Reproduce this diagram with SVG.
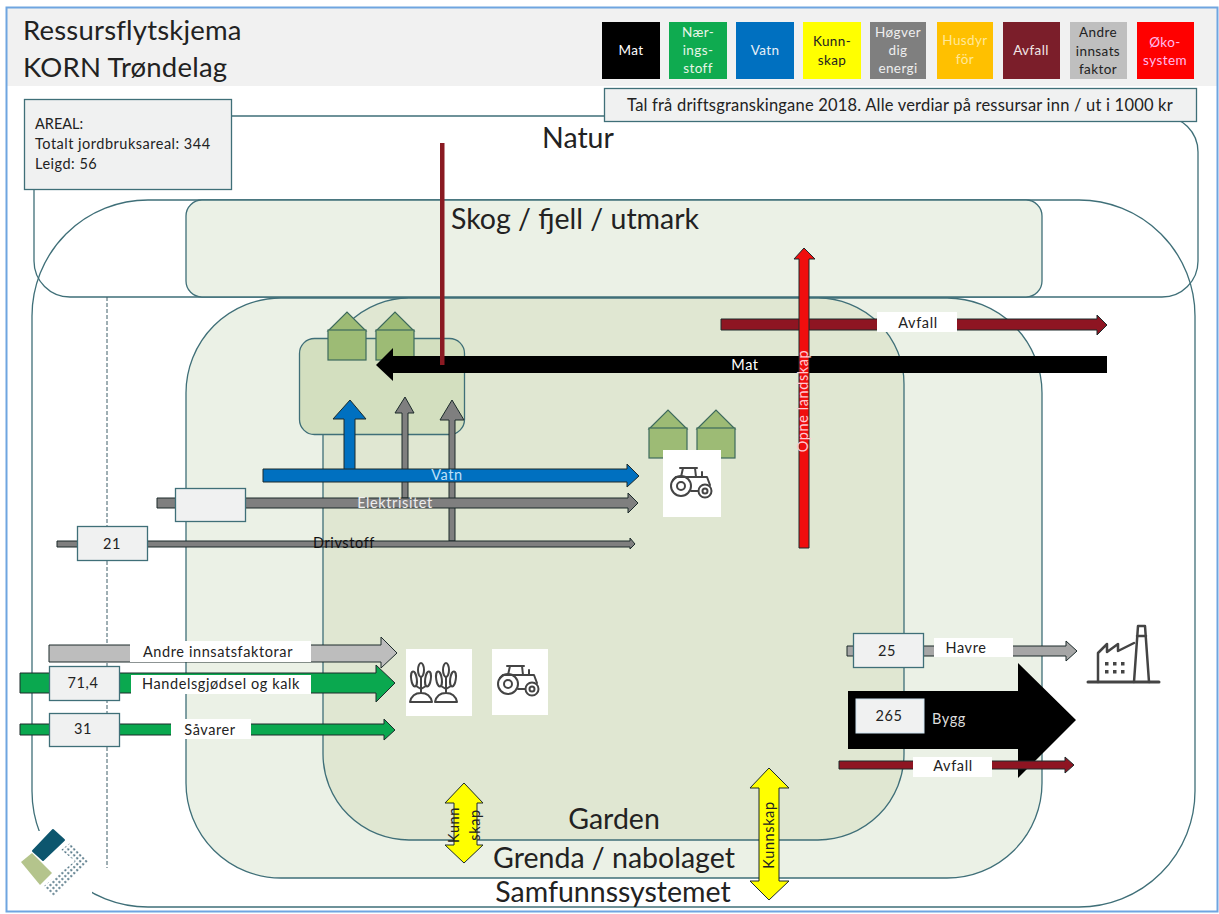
<svg xmlns="http://www.w3.org/2000/svg" width="1219" height="914" viewBox="0 0 1219 914">
<style>
text{font-family:"Lato","Open Sans","Liberation Sans",sans-serif;fill:#222}
.zone{stroke:#3f6f78;stroke-width:1.3}
.big{font-size:28.500px;text-anchor:middle}
.lg{font-size:13.500px;text-anchor:middle;letter-spacing:.4px}
.lb{font-size:14.500px;text-anchor:middle;letter-spacing:.6px}
.box{fill:#f0f1f1;stroke:#3f6f78;stroke-width:1.3}
.ar{stroke:#1c2b2b;stroke-width:1}
.wh{fill:#fff}
.ic{fill:none;stroke:#444;stroke-width:2;stroke-linejoin:round;stroke-linecap:round}
.house polygon,.house rect{fill:#9dbb75;stroke:#3d6a5c;stroke-width:1.2}
</style>
<defs>
<pattern id="dots" width="4.200" height="4.200" patternUnits="userSpaceOnUse" patternTransform="rotate(45)"><circle cx="2.100" cy="2.100" r="1.100" fill="#4b6f80"/></pattern>
<g id="house2">
<g class="house"><polygon points="0,19 19,0 38,19"/><rect x="0" y="18" width="38" height="30"/><polygon points="48,19 67,0 86,19"/><rect x="48" y="18" width="38" height="30"/></g>
</g>
<g id="tractor" class="ic">
<circle cx="0" cy="0" r="10"/><circle cx="0" cy="0" r="4"/><circle cx="24" cy="5" r="6.500"/><circle cx="24" cy="5" r="2.500"/>
<path d="M-8,-6L-5,-9H26L29,-1M10,5H17M-1,-18H16M2,-18L0,-9M14,-18L15,-9M21,-14V-9"/>
</g>
<g id="plant" class="ic">
<ellipse cx="0" cy="-32" rx="3" ry="7"/><path d="M0,-25V-9M-11,0H11Q9,-9 0,-9Q-9,-9 -11,0ZM0,-13L-5,-16M0,-13L5,-16"/>
<ellipse cx="-7" cy="-23" rx="2.800" ry="7.500" transform="rotate(-8 -7 -23)"/><ellipse cx="7" cy="-23" rx="2.800" ry="7.500" transform="rotate(8 7 -23)"/>
</g>
</defs>
<rect width="1219" height="914" fill="#fff"/>
<rect x="7" y="8" width="1210" height="78" fill="#f1f1f1"/>
<rect x="6.500" y="7.500" width="1211" height="904" fill="none" stroke="#6fa5e0" stroke-width="2"/>

<g id="zones">
<rect id="natur" class="zone" x="34" y="116" width="1164" height="181" rx="36" fill="none"/>
<rect id="samfunn" class="zone" x="32" y="200" width="1163" height="707" rx="116" fill="none"/>
<line x1="107" y1="297" x2="107" y2="868" stroke="#3f5f68" stroke-width="1" stroke-dasharray="4 2"/>
<rect id="skog" class="zone" x="186" y="200" width="856" height="97" rx="16" fill="#ebf1e6"/>
<rect id="grenda" class="zone" x="186" y="298" width="856" height="580" rx="95" fill="#ebf1e6"/>
<rect id="garden" class="zone" x="323" y="298" width="581" height="542" rx="86" fill="#e0e7d2"/>
</g>

<g id="header">
<text x="23" y="40" font-size="27.500" letter-spacing=".2">Ressursflytskjema</text>
<text x="23" y="77" font-size="27.500" letter-spacing=".2">KORN Trøndelag</text>
</g>

<g id="legend">
<g id="lg-mat"><rect x="602" y="22" width="58" height="57" fill="#000"/><text class="lg" x="631" y="55" style="fill:#fff">Mat</text></g>
<g id="lg-naering"><rect x="669" y="22" width="58" height="57" fill="#0fab50"/><text class="lg" x="698" y="37" style="fill:#e8f5e8">Nær-</text><text class="lg" x="698" y="55" style="fill:#e8f5e8">ings-</text><text class="lg" x="698" y="73" style="fill:#e8f5e8">stoff</text></g>
<g id="lg-vatn"><rect x="736" y="22" width="58" height="57" fill="#0070c0"/><text class="lg" x="765" y="55" style="fill:#e8f0f8">Vatn</text></g>
<g id="lg-kunn"><rect x="803" y="22" width="58" height="57" fill="#ffff00"/><text class="lg" x="832" y="46">Kunn-</text><text class="lg" x="832" y="65">skap</text></g>
<g id="lg-energi"><rect x="870" y="22" width="56" height="57" fill="#7f7f7f"/><text class="lg" x="898" y="37" style="fill:#eee">Høgver</text><text class="lg" x="898" y="55" style="fill:#eee">dig</text><text class="lg" x="898" y="73" style="fill:#eee">energi</text></g>
<g id="lg-for"><rect x="937" y="22" width="56" height="57" fill="#ffc000"/><text class="lg" x="965" y="45" style="fill:#ffe89a">Husdyr</text><text class="lg" x="965" y="64" style="fill:#ffe89a">för</text></g>
<g id="lg-avfall"><rect x="1003" y="22" width="57" height="57" fill="#7b1e2a"/><text class="lg" x="1031" y="55" style="fill:#f2e6e6">Avfall</text></g>
<g id="lg-andre"><rect x="1070" y="22" width="57" height="57" fill="#bfbfbf"/><text class="lg" x="1098" y="37">Andre</text><text class="lg" x="1098" y="56">innsats</text><text class="lg" x="1098" y="74">faktor</text></g>
<g id="lg-oko"><rect x="1137" y="22" width="57" height="57" fill="#f00"/><text class="lg" x="1165" y="47" style="fill:#fbe">Øko-</text><text class="lg" x="1165" y="65" style="fill:#fbe">system</text></g>
</g>

<g id="info">
<rect class="box" x="604.500" y="88.500" width="592" height="33"/>
<text x="900" y="111" font-size="16.500" text-anchor="middle" letter-spacing=".2">Tal frå driftsgranskingane 2018. Alle verdiar på ressursar inn / ut i 1000  kr</text>
</g>
<g id="areal">
<rect class="box" x="24.500" y="99.500" width="207" height="90"/>
<text x="35" y="129" font-size="14.500">AREAL:</text>
<text x="35" y="149" font-size="14.500" letter-spacing=".5">Totalt jordbruksareal: 344</text>
<text x="35" y="169" font-size="14.500" letter-spacing=".5">Leigd: 56</text>
</g>

<g id="zone-labels">
<text class="big" x="578" y="148">Natur</text>
<text class="big" x="575" y="229">Skog / fjell / utmark</text>
<text class="big" x="614" y="829">Garden</text>
<text class="big" x="614" y="868">Grenda / nabolaget</text>
<text class="big" x="613" y="902">Samfunnssystemet</text>
</g>

<g id="farm">
<rect x="299.500" y="338.500" width="165" height="96" rx="15" fill="#d3dfbf" stroke="#3f6f78" stroke-width="1.300"/>
<use href="#house2" x="328" y="312"/>
</g>
<g id="farm2"><use href="#house2" x="649" y="410"/></g>
<g id="tile-tractor1"><rect class="wh" x="663" y="450" width="58" height="67"/><use href="#tractor" x="681" y="486"/></g>
<g id="tile-crops"><rect class="wh" x="406" y="649" width="66" height="67"/><use href="#plant" x="421" y="702"/><use href="#plant" x="446" y="702"/></g>
<g id="tile-tractor2"><rect class="wh" x="492" y="649" width="56" height="66"/><use href="#tractor" x="508" y="684"/></g>
<g id="factory" class="ic">
<path stroke-width="3" d="M1088,682H1159"/>
<path stroke-width="2.500" d="M1098,682V653L1107,644V652L1118,644V651L1134,643M1134,682L1138,626H1145L1149,682M1137,636H1146"/>
<g stroke="none"><rect x="1105" y="662" width="3.500" height="3.500" fill="#444"/><rect x="1113" y="662" width="3.500" height="3.500" fill="#444"/><rect x="1121" y="662" width="3.500" height="3.500" fill="#444"/><rect x="1105" y="670" width="3.500" height="3.500" fill="#444"/><rect x="1113" y="670" width="3.500" height="3.500" fill="#444"/><rect x="1121" y="670" width="3.500" height="3.500" fill="#444"/></g>
</g>

<g id="connectors">
<polygon class="ar" points="449,541 449,420 440,420 452,400 464,420 455,420 455,541" fill="#7f7f7f"/>
<polygon class="ar" points="402,498 402,413 395,413 405,397 414,413 408,413 408,498" fill="#7f7f7f"/>
<polygon class="ar" points="344,470 344,419 333,419 350,400 366,419 355,419 355,470" fill="#0070c0"/>
<polygon class="ar" points="157,498 628,498 628,493 638,503 628,513 628,508 157,508" fill="#7f7f7f"/>
<polygon class="ar" points="263,469 627,469 627,464 639,476 627,487 627,482 263,482" fill="#0070c0"/>
<polygon class="ar" points="57,541 630,541 630,538 635,544 630,549 630,547 57,547" fill="#7f7f7f"/>
<polygon points="1107,356 393,356 393,348 376,365 393,381 393,373 1107,373" fill="#000"/>
<polygon class="ar" points="721,319 1097,319 1097,315 1107,325 1097,335 1097,330 721,330" fill="#8e1522" stroke-width=".6"/>
<polygon class="ar" points="799,548 799,259 794,259 804,248 815,259 809,259 809,548" fill="#f00e0e" stroke-width=".6"/>
<rect x="440" y="143" width="4.500" height="222" fill="#8a1a22"/>
<polygon class="ar" points="49,645 381,645 381,637 397,653 381,668 381,662 49,662" fill="#bdbdbd"/>
<polygon class="ar" points="20,673 376,673 376,665 395,683 376,702 376,693 20,693" fill="#0aa84f"/>
<polygon class="ar" points="20,724 384,724 384,719 395,730 384,740 384,735 20,735" fill="#0aa84f"/>
<polygon class="ar" points="847,646 1066,646 1066,641 1077,651 1066,661 1066,656 847,656" fill="#a6a6a6" stroke-width=".5"/>
<polygon points="848,691 1018,691 1018,663 1076,720 1018,778 1018,749 848,749" fill="#000"/>
<polygon class="ar" points="839,761 1065,761 1065,757 1074,765 1065,773 1065,769 839,769" fill="#8e1522" stroke-width=".6"/>
<polygon class="ar" points="464,783 483,803 477,803 477,845 483,845 464,863 445,845 454,845 454,803 445,803" fill="#ffff00"/>
<polygon class="ar" points="769,768 789,788 779,788 779,881 789,881 769,900 750,881 759,881 759,788 750,788" fill="#ffff00"/>
</g>

<g id="labels">
<rect class="wh" x="877" y="312" width="80" height="20"/><text class="lb" x="918" y="328">Avfall</text>
<text class="lb" x="745" y="370" style="fill:#fff">Mat</text>
<text class="lb" transform="translate(808,401) rotate(-90)" style="fill:#ffc8d0">Opne landskap</text>
<text class="lb" x="447" y="480" style="fill:#bfe0fa">Vatn</text>
<text class="lb" x="395" y="508" style="fill:#eee">Elektrisitet</text>
<text class="lb" x="344" y="548" style="fill:#111">Drivstoff</text>
<rect class="wh" x="130" y="641" width="181" height="21"/><text class="lb" x="218" y="657">Andre innsatsfaktorar</text>
<rect class="wh" x="131" y="675" width="180" height="19"/><text class="lb" x="221" y="689">Handelsgjødsel og kalk</text>
<rect class="wh" x="171" y="719" width="80" height="20"/><text class="lb" x="210" y="735">Såvarer</text>
<rect class="wh" x="934" y="638" width="79" height="19"/><text class="lb" x="966" y="653">Havre</text>
<text class="lb" x="949" y="724" style="fill:#ddd">Bygg</text>
<rect class="wh" x="913" y="757" width="79" height="20"/><text class="lb" x="953" y="771">Avfall</text>
<text class="lb" transform="translate(459,825) rotate(-90)">Kunn</text>
<text class="lb" transform="translate(480,825) rotate(-90)">skap</text>
<text class="lb" transform="translate(774,835) rotate(-90)">Kunnskap</text>
</g>

<g id="value-boxes">
<g id="v-el"><rect class="box" x="175.500" y="488.500" width="70" height="33"/></g>
<g id="v-21"><rect class="box" x="77.500" y="526.500" width="70" height="34"/><text class="lb" x="112" y="549">21</text></g>
<g id="v-71"><rect class="box" x="49.500" y="666.500" width="70" height="34"/><text class="lb" x="83" y="688">71,4</text></g>
<g id="v-31"><rect class="box" x="49.500" y="713.500" width="70" height="33"/><text class="lb" x="83" y="734">31</text></g>
<g id="v-25"><rect class="box" x="853.500" y="633.500" width="70" height="34"/><text class="lb" x="887" y="656">25</text></g>
<g id="v-265"><rect x="856" y="699" width="68" height="34" fill="#f0f1f1" stroke="#cfe4f2"/><text class="lb" x="889" y="721">265</text></g>
</g>

<g id="logo">
<rect x="8" y="831" width="84" height="70" fill="#fff"/>
<polygon points="53,830 64,840 43,860 33,851" fill="#0d566e" stroke="#0d566e" stroke-linejoin="round" stroke-width="2"/>
<polygon points="21,862 32,853 52,873 40,885" fill="#b4c48c"/>
<polygon points="70,843 89,862 54,897 44,886 75,861 61,850" fill="url(#dots)"/>
</g>
</svg>
